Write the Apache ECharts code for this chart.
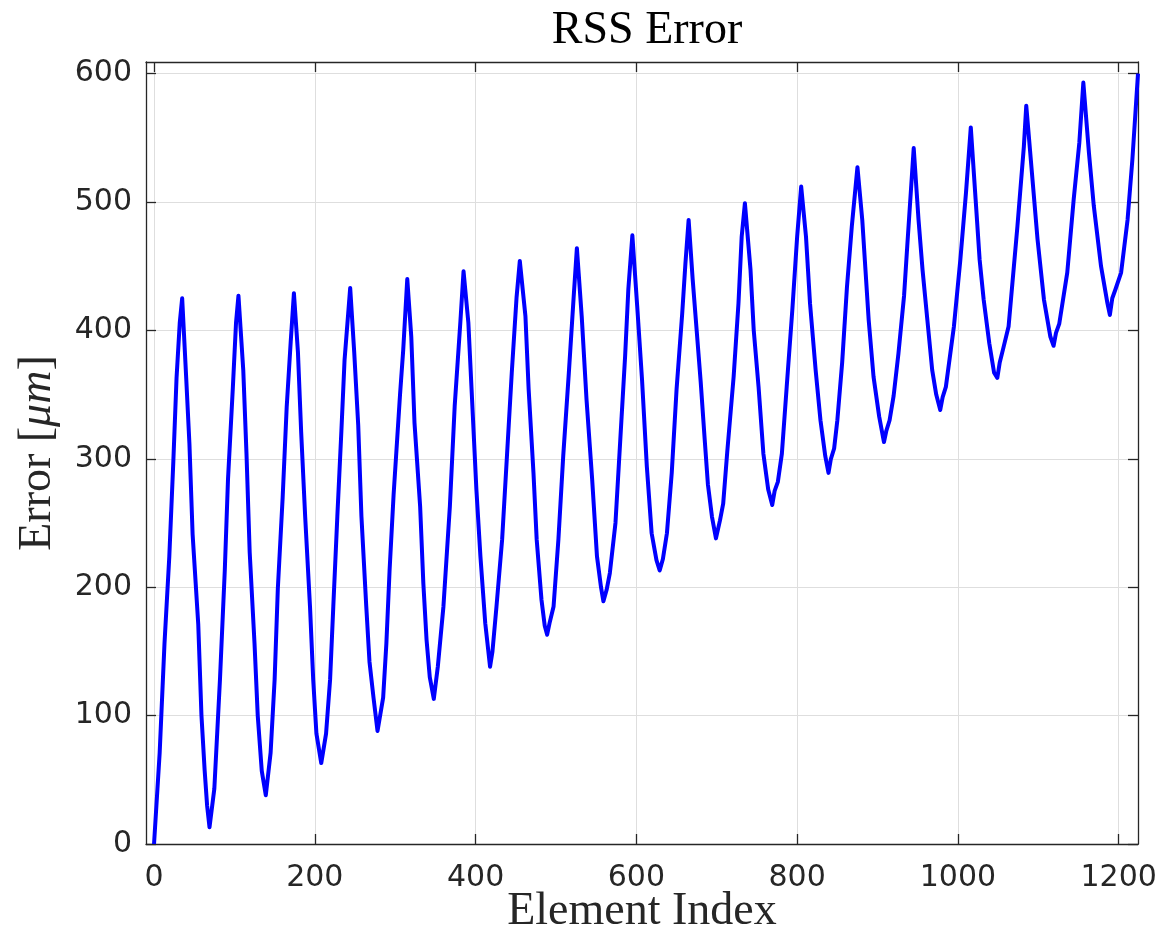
<!DOCTYPE html>
<html>
<head>
<meta charset="utf-8">
<script src="https://cdn.jsdelivr.net/npm/echarts@6/dist/echarts.min.js"></script>
<style>
  html, body { margin: 0; padding: 0; background: #ffffff; }
  #chart { width: 1160px; height: 935px; }
</style>
</head>
<body>
<div id="chart"></div>
<script>
// ---- data ----
const elementIndex = [
  0,7,13,19,24,28,32,35,40,44,48,55,59,63,66,69,
  75,82,88,92,98,102,105,111,115,119,125,129,134,139,
  145,150,154,160,165,170,174,179,183,188,194,198,202,208,
  214,219,223,228,233,237,244,249,254,258,264,268,273,278,
  285,289,293,298,306,310,315,320,324,331,335,339,343,348,
  353,360,368,374,381,385,391,395,401,406,412,418,
  421,426,433,439,445,451,455,462,466,472,476,482,486,489,
  492,497,503,509,516,522,526,532,538,545,551,556,559,
  563,567,574,580,586,590,595,601,607,613,619,625,629,
  633,638,644,650,657,661,665,670,675,680,685,689,694,699,
  704,708,713,721,727,731,735,742,746,752,758,764,769,772,776,
  781,787,794,800,805,811,816,823,829,835,839,842,846,
  850,856,862,868,875,881,885,889,895,902,908,911,915,
  920,926,933,937,945,951,956,962,968,973,978,981,985,
  995,1003,1010,1016,1022,1027,1032,1039,1045,1049,1052,1056,
  1063,1074,1082,1085,1092,1099,1107,1115,1119,1122,1126,
  1136,1144,1151,1156,1163,1169,1178,1186,1189,1192,1196,
  1203,1211,1217,1224
];
const rssError = [
  0,71,156,224,298,363,406,425,363,312,241,171,100,57,30,13,
  43,128,213,284,355,406,427,369,304,227,156,100,57,38,
  71,128,199,270,340,391,429,383,321,255,185,128,86,63,
  86,128,185,255,321,377,433,383,326,255,185,142,114,88,
  114,156,213,272,350,385,440,395,328,263,203,159,130,113,
  138,185,263,341,406,446,406,354,276,224,172,138,
  150,185,237,302,367,426,454,411,354,289,237,190,170,163,
  172,185,237,302,367,426,464,411,346,284,224,200,189,
  198,211,250,315,380,432,474,419,362,294,242,221,213,
  222,242,289,354,413,452,486,440,400,360,315,280,255,238,
  252,265,305,364,421,473,499,447,400,356,304,276,264,275,282,
  304,356,416,473,512,473,421,369,330,302,289,300,308,
  330,375,434,481,527,486,447,408,364,333,313,322,330,
  349,382,427,466,542,486,447,408,369,350,338,348,356,
  403,455,507,558,502,455,424,390,367,363,375,385,
  403,481,543,575,523,471,424,395,388,398,405,
  445,502,546,593,538,497,450,421,412,425,432,
  445,486,533,600
];
const xTicks = [0, 200, 400, 600, 800, 1000, 1200];
const yTicks = [0, 100, 200, 300, 400, 500, 600];
const titleText = 'RSS Error';
const xLabel = 'Element Index';

// ---- chart ----
const points = elementIndex.map((x, i) => [x, rssError[i]]);
const axisColor = '#262626';
const gridColor = '#dedede';
const xMin = -10, xMax = 1224, yMin = 0, yMax = 609;
const serif = '"Liberation Serif", "DejaVu Serif", serif';
const sans = '"DejaVu Sans", sans-serif';
const plain = v => String(v);

const chart = echarts.init(document.getElementById('chart'), null, { renderer: 'canvas' });
chart.setOption({
  backgroundColor: '#ffffff',
  animation: false,
  title: {
    text: titleText,
    left: 642,
    textAlign: 'center',
    top: 3,
    textStyle: { fontFamily: serif, fontSize: 46, fontWeight: 'normal', color: '#000000' }
  },
  grid: { left: 146, right: 22, top: 62, bottom: 91, containLabel: false, outerBoundsMode: 'none' },
  xAxis: [
    {
      type: 'value', min: xMin, max: xMax, position: 'bottom',
      name: xLabel, nameLocation: 'middle', nameGap: 45, nameMoveOverlap: false,
      nameTextStyle: { fontFamily: serif, fontSize: 46, color: axisColor },
      axisLine: { show: true, onZero: false, lineStyle: { color: axisColor, width: 1.3 } },
      axisTick: { show: true, inside: true, length: 10, customValues: xTicks, lineStyle: { color: axisColor, width: 1.3 } },
      axisLabel: { show: true, customValues: xTicks, formatter: plain, margin: 19, fontFamily: sans, fontSize: 30, color: axisColor },
      splitLine: { show: true, lineStyle: { color: gridColor, width: 1 } }
    },
    {
      type: 'value', min: xMin, max: xMax, position: 'top',
      axisLine: { show: true, onZero: false, lineStyle: { color: axisColor, width: 1.3 } },
      axisTick: { show: true, inside: true, length: 10, customValues: xTicks, lineStyle: { color: axisColor, width: 1.3 } },
      axisLabel: { show: false },
      splitLine: { show: false }
    }
  ],
  yAxis: [
    {
      type: 'value', min: yMin, max: yMax, position: 'left',
      name: 'Error [{i|μm}]', nameLocation: 'middle', nameGap: 85, nameRotate: 90, nameMoveOverlap: false,
      nameTextStyle: {
        fontFamily: serif, fontSize: 46, color: axisColor,
        rich: { i: { fontFamily: serif, fontSize: 46, fontStyle: 'italic', color: axisColor } }
      },
      axisLine: { show: true, onZero: false, lineStyle: { color: axisColor, width: 1.3 } },
      axisTick: { show: true, inside: true, length: 10, customValues: yTicks, lineStyle: { color: axisColor, width: 1.3 } },
      axisLabel: { show: true, customValues: yTicks, formatter: plain, margin: 14, fontFamily: sans, fontSize: 30, color: axisColor },
      splitLine: { show: true, lineStyle: { color: gridColor, width: 1 } }
    },
    {
      type: 'value', min: yMin, max: yMax, position: 'right',
      axisLine: { show: true, onZero: false, lineStyle: { color: axisColor, width: 1.3 } },
      axisTick: { show: true, inside: true, length: 10, customValues: yTicks, lineStyle: { color: axisColor, width: 1.3 } },
      axisLabel: { show: false },
      splitLine: { show: false }
    }
  ],
  series: [
    {
      type: 'line',
      xAxisIndex: 0,
      yAxisIndex: 0,
      data: points,
      showSymbol: false,
      symbol: 'none',
      clip: true,
      lineStyle: { color: '#0000ff', width: 4, join: 'round' },
      z: 5
    }
  ]
});
</script>
</body>
</html>
